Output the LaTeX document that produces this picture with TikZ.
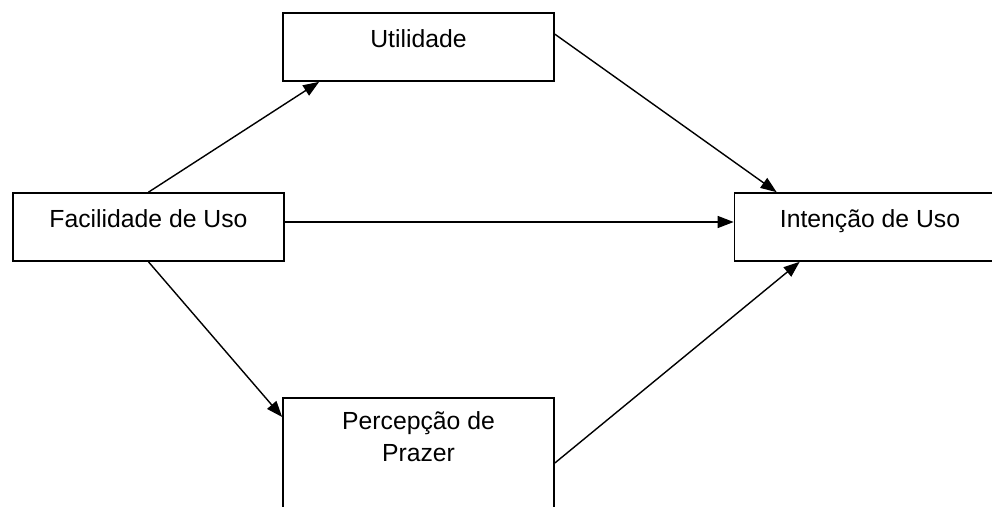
\documentclass[tikz,border=0pt]{standalone}
\usepackage{fontspec}
\setmainfont{Liberation Sans}
\usetikzlibrary{arrows.meta}
\tikzset{
  caixa/.style={draw, line width=1.2pt, minimum width=6.775cm, minimum height=1.7cm,
    inner sep=0pt, align=center, text height=0.45cm, text depth=0.45cm,
    font=\fontsize{17.6pt}{22.8pt}\selectfont},
  seta/.style={->, line width=1pt}
}
\begin{document}
\begin{tikzpicture}[>={Triangle[length=0.4cm,width=0.3cm]}]
\useasboundingbox (0,0) rectangle (24.8,-12.675);

\node (fac) at (3.7125,-5.675)[caixa]{Facilidade de Uso};
\node (uti) at (10.4625,-1.175)[caixa]{Utilidade};
\node (int) at (21.75,-5.675)[caixa]{Intenção de Uso};
\node (per) at (10.4625,-9.925)[caixa, anchor=north, minimum height=3.5cm,
  text height=1.6cm, text depth=1.9cm]{Percepção de\\Prazer};

\draw[seta](fac.north)--([xshift=0.925cm]uti.south west);
\draw[seta]([yshift=0.125cm]fac.east)--([yshift=0.125cm]int.west);
\draw[seta](fac.south)--([yshift=-0.5cm]per.north west);
\draw[seta]([yshift=-0.55cm]uti.north east)--([xshift=1.075cm]int.north west);
\draw[seta]([yshift=-1.65cm]per.north east)--([xshift=1.65cm]int.south west);

\end{tikzpicture}
\end{document}
